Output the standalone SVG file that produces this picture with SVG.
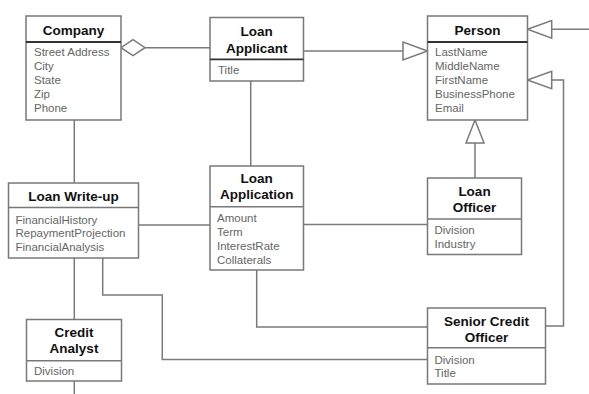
<svg xmlns="http://www.w3.org/2000/svg" width="589" height="394" viewBox="0 0 589 394">
<style>
.box{fill:#fff;stroke:#787878;stroke-width:1.5}
.dd{stroke:#333;stroke-width:1.8}
.dl{stroke:#787878;stroke-width:1.5}
.t{font-family:"Liberation Sans",Arial,sans-serif;font-weight:bold;font-size:13.5px;fill:#111;text-anchor:middle}
.a{font-family:"Liberation Sans",Arial,sans-serif;font-size:11.5px;fill:#666}
.c{fill:none;stroke:#7a7a7a;stroke-width:1.5}
.h{fill:#fff;stroke:#7a7a7a;stroke-width:1.5}
</style>
<rect width="589" height="394" fill="#fff"/>
<g id="connectors">
<line class="c" x1="145" y1="47.7" x2="210" y2="47.7"/>
<polygon class="h" points="121,47.7 133,39.7 145,47.7 133,55.7"/>
<line class="c" x1="303.5" y1="51" x2="403" y2="51"/>
<polygon class="h" points="427.5,51 403,42 403,60"/>
<line class="c" x1="589" y1="29.3" x2="551.7" y2="29.3"/>
<polygon class="h" points="527.5,29.3 551.7,20.5 551.7,38.1"/>
<polyline class="c" points="545.5,326 563.5,326 563.5,80 551.7,80"/>
<polygon class="h" points="527.5,80 551.7,71.2 551.7,88.8"/>
<line class="c" x1="475" y1="178" x2="475" y2="143"/>
<polygon class="h" points="475,120 466,143 484,143"/>
<line class="c" x1="250.7" y1="81" x2="250.7" y2="166"/>
<line class="c" x1="74.3" y1="120" x2="74.3" y2="183"/>
<line class="c" x1="138.5" y1="225" x2="210" y2="225"/>
<line class="c" x1="303.5" y1="224.5" x2="427.5" y2="224.5"/>
<line class="c" x1="74.3" y1="258" x2="74.3" y2="319.5"/>
<line class="c" x1="74.3" y1="381" x2="74.3" y2="394"/>
<polyline class="c" points="102.7,258 102.7,295 162.3,295 162.3,359.5 427.5,359.5"/>
<polyline class="c" points="256.7,270 256.7,327 427.5,327"/>
</g>
<g id="company">
<rect class="box" x="26" y="16" width="95" height="104"/>
<line class="dd" x1="26" y1="42" x2="121" y2="42"/>
<text class="t" x="73.5" y="35">Company</text>
<text class="a" x="34" y="56">Street Address</text>
<text class="a" x="34" y="70">City</text>
<text class="a" x="34" y="84">State</text>
<text class="a" x="34" y="98">Zip</text>
<text class="a" x="34" y="112">Phone</text>
</g>
<g id="loan-applicant">
<rect class="box" x="210" y="17.5" width="93.5" height="63.5"/>
<line class="dd" x1="210" y1="59.3" x2="303.5" y2="59.3"/>
<text class="t" x="256.7" y="35.5">Loan</text>
<text class="t" x="256.7" y="52.5">Applicant</text>
<text class="a" x="218" y="74">Title</text>
</g>
<g id="person">
<rect class="box" x="427.5" y="16" width="100" height="104"/>
<line class="dd" x1="427.5" y1="42" x2="527.5" y2="42"/>
<text class="t" x="477.5" y="35">Person</text>
<text class="a" x="435" y="56">LastName</text>
<text class="a" x="435" y="70">MiddleName</text>
<text class="a" x="435" y="84">FirstName</text>
<text class="a" x="435" y="98">BusinessPhone</text>
<text class="a" x="435" y="112">Email</text>
</g>
<g id="loan-write-up">
<rect class="box" x="8.5" y="183" width="130" height="75"/>
<line class="dl" x1="8.5" y1="207.5" x2="138.5" y2="207.5"/>
<text class="t" x="73.5" y="200.5">Loan Write-up</text>
<text class="a" x="15.5" y="223.5">FinancialHistory</text>
<text class="a" x="15.5" y="237">RepaymentProjection</text>
<text class="a" x="15.5" y="251">FinancialAnalysis</text>
</g>
<g id="loan-application">
<rect class="box" x="210" y="166" width="93.5" height="104"/>
<line class="dl" x1="210" y1="206.7" x2="303.5" y2="206.7"/>
<text class="t" x="256.7" y="183">Loan</text>
<text class="t" x="256.7" y="199">Application</text>
<text class="a" x="217" y="222">Amount</text>
<text class="a" x="217" y="236">Term</text>
<text class="a" x="217" y="250">InterestRate</text>
<text class="a" x="217" y="264">Collaterals</text>
</g>
<g id="loan-officer">
<rect class="box" x="427.5" y="178" width="94" height="76.5"/>
<line class="dl" x1="427.5" y1="219" x2="521.5" y2="219"/>
<text class="t" x="474.5" y="196">Loan</text>
<text class="t" x="474.5" y="211.5">Officer</text>
<text class="a" x="434.5" y="233.5">Division</text>
<text class="a" x="434.5" y="247.5">Industry</text>
</g>
<g id="senior-credit-officer">
<rect class="box" x="427.5" y="308" width="118" height="76"/>
<line class="dl" x1="427.5" y1="347.7" x2="545.5" y2="347.7"/>
<text class="t" x="486.5" y="326">Senior Credit</text>
<text class="t" x="486.5" y="341.5">Officer</text>
<text class="a" x="434.5" y="363.5">Division</text>
<text class="a" x="434.5" y="377">Title</text>
</g>
<g id="credit-analyst">
<rect class="box" x="26.5" y="319.5" width="95" height="61.5"/>
<line class="dl" x1="26.5" y1="360.7" x2="121.5" y2="360.7"/>
<text class="t" x="74" y="337">Credit</text>
<text class="t" x="74" y="353">Analyst</text>
<text class="a" x="34" y="375">Division</text>
</g>
</svg>
